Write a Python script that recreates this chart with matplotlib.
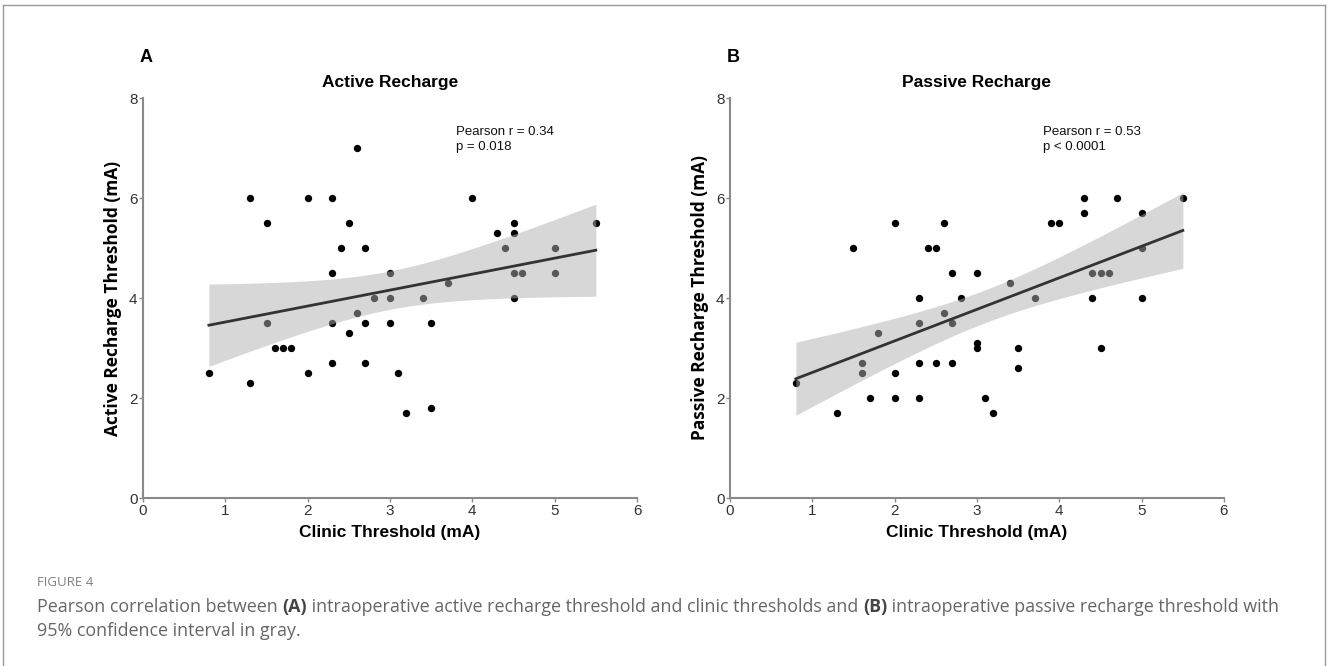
import numpy as np
import matplotlib
matplotlib.use("Agg")
import matplotlib.pyplot as plt
from matplotlib.lines import Line2D

# ---------------- data ----------------
active_x = [2.6, 1.3, 2.0, 2.3, 4.0, 1.5, 2.5, 4.5, 5.5, 4.3, 4.5, 2.4, 2.7, 4.4, 5.0,
            2.3, 3.0, 4.5, 4.6, 5.0, 3.7, 2.8, 3.0, 3.4, 4.5, 1.5, 2.3, 2.6, 2.7, 3.0,
            3.5, 2.5, 1.6, 1.7, 1.8, 2.3, 2.7, 0.8, 2.0, 3.1, 1.3, 3.2, 3.5]
active_y = [7.0, 6.0, 6.0, 6.0, 6.0, 5.5, 5.5, 5.5, 5.5, 5.3, 5.3, 5.0, 5.0, 5.0, 5.0,
            4.5, 4.5, 4.5, 4.5, 4.5, 4.3, 4.0, 4.0, 4.0, 4.0, 3.5, 3.5, 3.7, 3.5, 3.5,
            3.5, 3.3, 3.0, 3.0, 3.0, 2.7, 2.7, 2.5, 2.5, 2.5, 2.3, 1.7, 1.8]

passive_x = [4.3, 4.7, 5.5, 4.3, 5.0, 2.0, 2.6, 3.9, 4.0, 1.5, 2.4, 2.5, 5.0, 2.7, 3.0,
             4.4, 4.5, 4.6, 3.4, 2.3, 2.8, 3.7, 4.4, 5.0, 2.6, 2.3, 2.7, 1.8, 3.0, 3.0,
             3.5, 4.5, 3.5, 1.6, 1.6, 2.3, 2.5, 2.7, 2.0, 0.8, 1.7, 2.0, 2.3, 3.1, 1.3, 3.2]
passive_y = [6.0, 6.0, 6.0, 5.7, 5.7, 5.5, 5.5, 5.5, 5.5, 5.0, 5.0, 5.0, 5.0, 4.5, 4.5,
             4.5, 4.5, 4.5, 4.3, 4.0, 4.0, 4.0, 4.0, 4.0, 3.7, 3.5, 3.5, 3.3, 3.1, 3.0,
             3.0, 3.0, 2.6, 2.7, 2.5, 2.7, 2.7, 2.7, 2.5, 2.3, 2.0, 2.0, 2.0, 2.0, 1.7, 1.7]

panel_letters = ["A", "B"]
titles = ["Active Recharge", "Passive Recharge"]
ylabels = ["Active Recharge Threshold (mA)", "Passive Recharge Threshold (mA)"]
xlabel = "Clinic Threshold (mA)"
stats = ["Pearson r = 0.34\np = 0.018", "Pearson r = 0.53\np < 0.0001"]
xticks = [0, 1, 2, 3, 4, 5, 6]
yticks = [0, 2, 4, 6, 8]
t_crit = [2.020, 2.015]  # 95% t critical values (df = n-2)

caption_head = "FIGURE 4"
caption_segments_line1 = [("Pearson correlation between ", False), ("(A)", True),
                          (" intraoperative active recharge threshold and clinic thresholds and ", False),
                          ("(B)", True),
                          (" intraoperative passive recharge threshold with", False)]
caption_line2 = "95% confidence interval in gray."

# ---------------- figure ----------------
W, H = 1328, 666
fig = plt.figure(figsize=(W / 100, H / 100), dpi=100)
fig.patch.set_facecolor("white")

FONT = "Liberation Sans"
axes_px = [(143, 98, 494, 400), (730, 98, 494, 400)]
datasets = [(active_x, active_y), (passive_x, passive_y)]

for i, (l, t, w, h) in enumerate(axes_px):
    ax = fig.add_axes([l / W, 1 - (t + h) / H, w / W, h / H])
    x = np.array(datasets[i][0]); y = np.array(datasets[i][1])
    ax.scatter(x, y, s=28, color="black", zorder=2, linewidths=0)
    # regression + CI of mean
    n = len(x)
    b1, b0 = np.polyfit(x, y, 1)
    xs = np.linspace(x.min(), x.max(), 200)
    yhat = b0 + b1 * xs
    resid = y - (b0 + b1 * x)
    s_err = np.sqrt(np.sum(resid ** 2) / (n - 2))
    se = s_err * np.sqrt(1 / n + (xs - x.mean()) ** 2 / np.sum((x - x.mean()) ** 2))
    ax.fill_between(xs, yhat - t_crit[i] * se, yhat + t_crit[i] * se,
                    color="#b0b0b0", alpha=0.5, linewidth=0, zorder=3)
    ax.plot(xs, yhat, color="#333333", lw=2, zorder=4)

    ax.set_xlim(0, 6)
    ax.set_ylim(0, 8)
    ax.set_xticks(xticks)
    ax.set_yticks(yticks)
    for sp in ["top", "right"]:
        ax.spines[sp].set_visible(False)
    for sp in ["left", "bottom"]:
        ax.spines[sp].set_color("#8a8a8a")
        ax.spines[sp].set_linewidth(1.5)
    ax.tick_params(direction="out", length=3, width=1, color="#8a8a8a",
                   labelsize=11, labelcolor="#333333", pad=1)
    for lab in ax.get_xticklabels() + ax.get_yticklabels():
        lab.set_fontfamily(FONT)
    ax.set_xlabel(xlabel, fontsize=12.5, fontweight="bold", fontfamily=FONT, labelpad=5)
    ax.set_ylabel(ylabels[i], fontsize=12.5, fontweight="bold", fontfamily="Open Sans", labelpad=5)
    ax.set_title(titles[i], fontsize=12.5, fontweight="bold", fontfamily=FONT, pad=8)
    ax.text(0.634, 0.93, stats[i], transform=ax.transAxes, fontsize=9.5, fontfamily=FONT,
            va="top", ha="left", linespacing=1.3, color="#111111")
    fig.text((l - 3) / W, 1 - 58 / H, panel_letters[i], fontsize=13, fontweight="bold",
             fontfamily=FONT, va="center", ha="left")

# outer frame
fig.add_artist(Line2D([3 / W, 3 / W], [0, 1 - 5 / H], color="#9a9a9a", lw=1))
fig.add_artist(Line2D([3 / W, 1325 / W], [1 - 5 / H, 1 - 5 / H], color="#9a9a9a", lw=1))
fig.add_artist(Line2D([1325 / W, 1325 / W], [0, 1 - 5 / H], color="#9a9a9a", lw=1))

# caption
cap_color = "#666666"
CAP_X = 37
fig.text(CAP_X / W, 1 - 583 / H, caption_head, fontsize=9.5, fontfamily="Open Sans",
         color="#808080", va="center", ha="left")
fig.canvas.draw()
renderer = fig.canvas.get_renderer()
xpos = CAP_X
for seg, bold in caption_segments_line1:
    tt = fig.text(xpos / W, 1 - 607 / H, seg, fontsize=12.9, fontfamily="Open Sans",
                  fontweight="bold" if bold else "normal",
                  color="#444444" if bold else cap_color, va="center", ha="left")
    bb = tt.get_window_extent(renderer=renderer)
    xpos += bb.width
fig.text(CAP_X / W, 1 - 631 / H, caption_line2, fontsize=12.9, fontfamily="Open Sans",
         color=cap_color, va="center", ha="left")

fig.savefig("out.png", dpi=100, facecolor="white")
